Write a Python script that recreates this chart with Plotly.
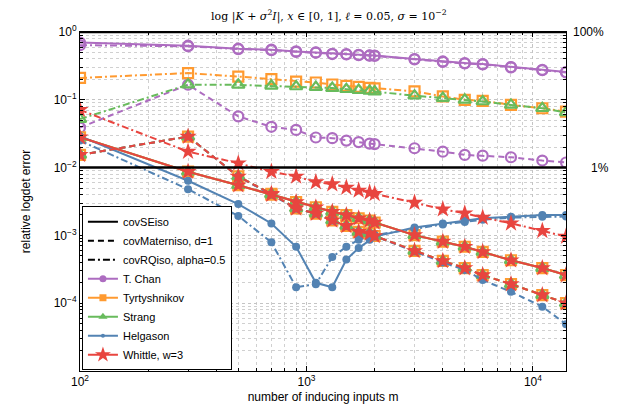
import plotly.graph_objects as go

# ---------------- data ----------------
m = [100, 300, 500, 700, 900, 1100, 1300, 1500, 1700, 1900, 2000,
     3000, 4000, 5000, 6000, 8000, 11000, 14000]

# T. Chan
chan_se = [0.70, 0.628, 0.567, 0.548, 0.517, 0.50, 0.478, 0.473, 0.462, 0.451, 0.450,
           0.40, 0.368, 0.348, 0.337, 0.304, 0.277, 0.257]
chan_mat = [0.039, 0.167, 0.057, 0.040, 0.036, 0.0278, 0.0272, 0.025, 0.0238, 0.0226, 0.0222,
            0.0193, 0.0172, 0.0154, 0.015, 0.0142, 0.0127, 0.0119]
chan_rq = [0.64, 0.615, 0.56, 0.54, 0.51, 0.495, 0.473, 0.466, 0.455, 0.447, 0.445,
           0.395, 0.363, 0.343, 0.333, 0.300, 0.273, 0.253]

# Tyrtyshnikov
tyr_se = [0.028, 0.0087, 0.0055, 0.0040, 0.0031, 0.0026, 0.00223, 0.0020, 0.00179, 0.00166, 0.00155,
          0.00101, 0.00081, 0.00068, 0.00057, 0.00043, 0.00033, 0.00026]
tyr_mat = [0.0154, 0.0287, 0.0074, 0.0041, 0.0025, 0.0021, 0.00166, 0.00138, 0.00113, 0.00107, 0.00098,
           0.00059, 0.00042, 0.00033, 0.00026, 0.000191, 0.000132, 0.0001]
tyr_rq = [0.21, 0.248, 0.22, 0.202, 0.186, 0.18, 0.168, 0.161, 0.155, 0.150, 0.147,
          0.133, 0.112, 0.100, 0.0966, 0.084, 0.075, 0.067]

# Strang
str_se = [0.028, 0.0087, 0.0055, 0.0040, 0.0031, 0.0026, 0.00223, 0.0020, 0.00179, 0.00166, 0.00155,
          0.00101, 0.00081, 0.00068, 0.00057, 0.00043, 0.00033, 0.00026]
str_mat = [0.0154, 0.0287, 0.0074, 0.0041, 0.0025, 0.0021, 0.00166, 0.00138, 0.00113, 0.00107, 0.00098,
           0.00059, 0.00042, 0.00033, 0.00026, 0.000191, 0.000132, 0.0001]
str_rq = [0.052, 0.167, 0.166, 0.161, 0.157, 0.154, 0.149, 0.143, 0.139, 0.135, 0.132,
          0.115, 0.106, 0.100, 0.0944, 0.084, 0.075, 0.065]

# Helgason
hel_se = [0.029, 0.0064, 0.0029, 0.0015, 0.00068, 0.00020, 0.000172, 0.00044, 0.00065, 0.00086, 0.00096,
          0.00131, 0.0015, 0.00165, 0.00179, 0.00189, 0.0020, 0.0020]
hel_mat = [0.0154, 0.0287, 0.0074, 0.0040, 0.0025, 0.0021, 0.00166, 0.00138, 0.00113, 0.00107, 0.00098,
           0.00058, 0.00040, 0.00031, 0.00022, 0.000147, 0.000089, 0.000049]
hel_rq = [0.025, 0.0048, 0.00194, 0.00079, 0.000172, 0.00019, 0.00048, 0.00068, 0.00086, 0.00096, 0.00101,
          0.00125, 0.00145, 0.00158, 0.0017, 0.00183, 0.00188, 0.0019]

# Whittle, w=3
whi_se = [0.028, 0.0087, 0.0055, 0.0040, 0.0031, 0.0026, 0.00223, 0.0020, 0.00179, 0.00166, 0.00155,
          0.00101, 0.00081, 0.00068, 0.00057, 0.00043, 0.00033, 0.00026]
whi_mat = [0.0154, 0.0287, 0.0074, 0.0041, 0.0025, 0.0021, 0.00166, 0.00138, 0.00113, 0.00107, 0.00098,
           0.00059, 0.00042, 0.00033, 0.00026, 0.000191, 0.000132, 0.0001]
whi_rq = [0.071, 0.0172, 0.0116, 0.0087, 0.0074, 0.0061, 0.0057, 0.00507, 0.0046, 0.0043, 0.0041,
          0.00304, 0.00243, 0.00212, 0.00183, 0.00151, 0.00117, 0.00096]

kernel_names = ["covSEiso", "covMaterniso, d=1", "covRQiso, alpha=0.5"]
method_names = ["T. Chan", "Tyrtyshnikov", "Strang", "Helgason", "Whittle, w=3"]

x_ticks = [100, 1000, 10000]
x_ticktext = ["10<sup>2</sup>", "10<sup>3</sup>", "10<sup>4</sup>"]
y_ticks = [1, 0.1, 0.01, 0.001, 0.0001]
y_ticktext = ["10<sup>0</sup>", "10<sup>−1</sup>", "10<sup>−2</sup>", "10<sup>−3</sup>", "10<sup>−4</sup>"]
x_minor = [d * 10 ** e for e in (2, 3, 4) for d in range(2, 10)]
y_minor = [d * 10.0 ** e for e in (-5, -4, -3, -2, -1) for d in range(2, 10)]

# ---------------- style ----------------
PURPLE = "#ad6cc0"
ORANGE = "#ff9a30"
GREEN = "#68bb5c"
BLUE = "#5383b3"
RED = "#e8453f"
dashes = ["solid", "6px,4px", "7px,3px,2px,3px"]

methods = [
    (method_names[0], [chan_se, chan_mat, chan_rq], PURPLE,
     dict(symbol="circle-open", size=10, line=dict(width=2.2))),
    (method_names[1], [tyr_se, tyr_mat, tyr_rq], ORANGE,
     dict(symbol="square-open", size=10, line=dict(width=2.2))),
    (method_names[2], [str_se, str_mat, str_rq], GREEN,
     dict(symbol="triangle-up-open", size=11, line=dict(width=2.2))),
    (method_names[3], [hel_se, hel_mat, hel_rq], BLUE,
     dict(symbol="circle", size=8)),
    (method_names[4], [whi_se, whi_mat, whi_rq], RED,
     dict(symbol="star", size=13, line=dict(width=0))),
]

fig = go.Figure()
FONT = "Liberation Sans, Arial, sans-serif"

for name, series, color, mk in methods:
    for vals, dash in zip(series, dashes):
        fig.add_trace(go.Scatter(
            x=m, y=vals, mode="lines+markers",
            line=dict(color=color, width=2, dash=dash),
            marker=dict(color=color, **mk),
            showlegend=False, hoverinfo="skip"))

# legend entries
for kname, dash in zip(kernel_names, dashes):
    fig.add_trace(go.Scatter(x=[None], y=[None], mode="lines", name=kname,
                             line=dict(color="black", width=2, dash=dash)))
legend_markers = [
    dict(symbol="circle", size=7),
    dict(symbol="square", size=7),
    dict(symbol="triangle-up", size=8),
    dict(symbol="circle", size=4),
    dict(symbol="star", size=12),
]
for (name, series, color, mk), lm in zip(methods, legend_markers):
    fig.add_trace(go.Scatter(x=[None], y=[None], mode="lines+markers", name=name,
                             line=dict(color=color, width=2),
                             marker=dict(color=color, **lm)))

# reference lines at 100% and 1%
fig.add_hline(y=1, line=dict(color="black", width=2.5), layer="above")
fig.add_hline(y=0.01, line=dict(color="black", width=2.5), layer="above")
fig.add_annotation(x=1.01, xref="paper", y=0, yref="y", text="100%",
                   showarrow=False, xanchor="left", yanchor="middle",
                   font=dict(family=FONT, size=12, color="black"))
fig.add_annotation(x=1.047, xref="paper", y=-2, yref="y", text="1%",
                   showarrow=False, xanchor="left", yanchor="middle",
                   font=dict(family=FONT, size=12, color="black"))

axis_common = dict(
    type="log", ticks="inside", ticklen=5, tickcolor="black",
    showline=True, linecolor="black", linewidth=1, mirror="ticks",
    zeroline=False, automargin=False,
    showgrid=True, gridcolor="#c4c4c4", griddash="dot", gridwidth=1,
    tickfont=dict(family=FONT, size=12, color="black"),
)

fig.update_xaxes(range=[2, 4.146], tickvals=x_ticks, ticktext=x_ticktext,
                 minor=dict(tickvals=x_minor, ticks="inside", ticklen=3, tickcolor="black",
                            showgrid=True, gridcolor="#d0d0d0", griddash="dot"),
                 title=dict(text="number of inducing inputs m", standoff=4,
                            font=dict(family=FONT, size=12, color="black")),
                 **axis_common)
fig.update_yaxes(range=[-5, 0], tickvals=y_ticks, ticktext=y_ticktext,
                 minor=dict(tickvals=y_minor, ticks="inside", ticklen=3, tickcolor="black",
                            showgrid=True, gridcolor="#d0d0d0", griddash="dot"),
                 title=dict(text="relative logdet error", standoff=20,
                            font=dict(family=FONT, size=12, color="black")),
                 **axis_common)

# page body has an 8px margin, so the figure is sized to fit the window
fig.update_layout(
    width=617, height=409,
    margin=dict(l=72, r=59, t=24, b=46, autoexpand=False),
    paper_bgcolor="white", plot_bgcolor="white",
    title=dict(text="log |<i>K</i> + <i>σ</i><sup>2</sup><i>I</i>|, <i>x</i> ∈ [0, 1], <i>ℓ</i> = 0.05, <i>σ</i> = 10<sup>−2</sup>",
               x=0.52, xanchor="center", y=0.98, yanchor="middle",
               font=dict(family="DejaVu Serif, serif", size=11, color="black")),
    legend=dict(x=0.004, y=0.002, xanchor="left", yanchor="bottom",
                bgcolor="white", bordercolor="black", borderwidth=1,
                font=dict(family=FONT, size=11, color="black"),
                tracegroupgap=0, itemwidth=30),
    showlegend=True,
)

fig.write_html("out.html")
